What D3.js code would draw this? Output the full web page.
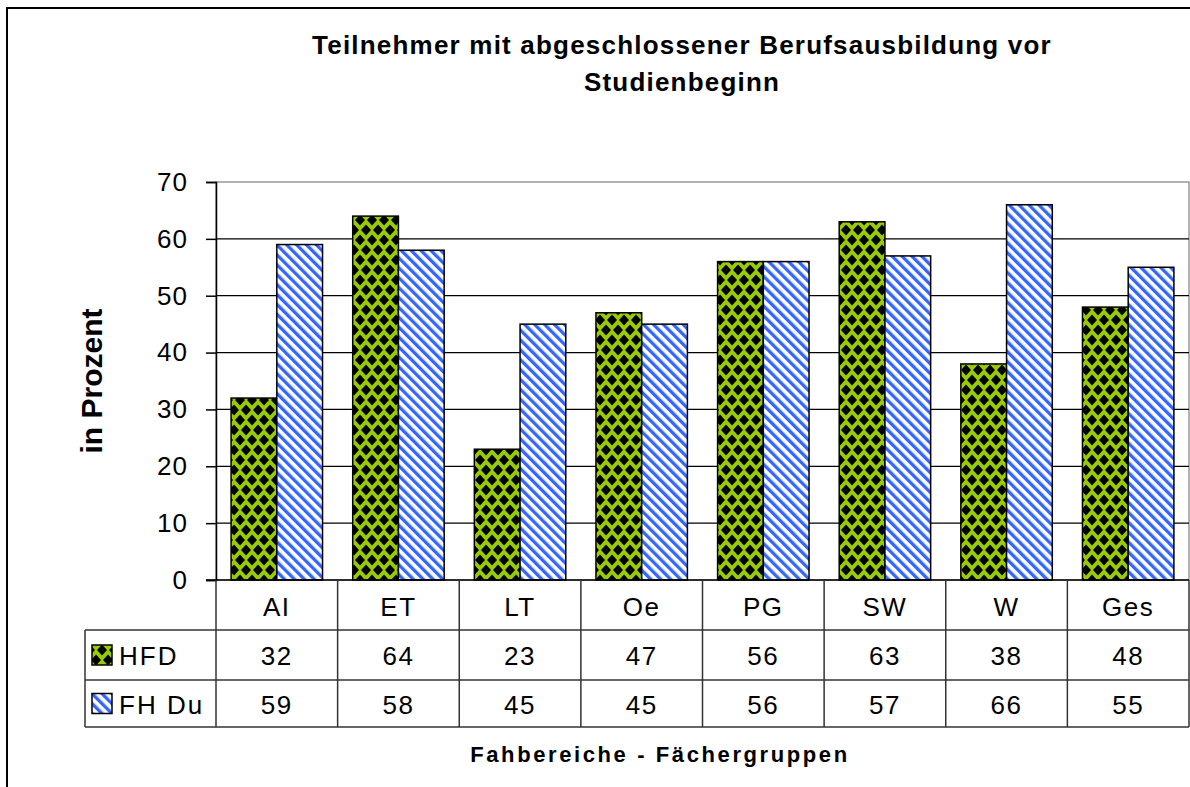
<!DOCTYPE html>
<html>
<head>
<meta charset="utf-8">
<script src="https://cdn.jsdelivr.net/npm/d3@7/dist/d3.min.js"></script>
<style>
  body { margin: 0; background: #fff; }
  text { font-family: 'Liberation Sans', Arial, sans-serif; fill: #000; }
</style>
</head>
<body>
<svg id="chart" width="1190" height="787"></svg>
<script>
const categories = ['AI', 'ET', 'LT', 'Oe', 'PG', 'SW', 'W', 'Ges'];
const seriesNames = ['HFD', 'FH Du'];
const hfd = [32, 64, 23, 47, 56, 63, 38, 48];
const fhdu = [59, 58, 45, 45, 56, 57, 66, 55];
const yTicks = [0, 10, 20, 30, 40, 50, 60, 70];

const W = 1190, H = 787;
const plotL = 216, plotR = 1189, plotT = 182, plotB = 580;
const rowH = [50, 50, 47];

const svg = d3.select('#chart');
const defs = svg.append('defs');

// green with black diamonds
const pDots = defs.append('pattern')
  .attr('id', 'pDots')
  .attr('patternUnits', 'userSpaceOnUse')
  .attr('width', 12).attr('height', 20);
pDots.append('rect').attr('width', 12).attr('height', 20).attr('fill', '#99cc00');
[[0, 0], [12, 0], [0, 20], [12, 20], [6, 10]].forEach(([cx, cy]) => {
  pDots.append('path')
    .attr('d', `M${cx} ${cy - 5.5}L${cx + 5} ${cy}L${cx} ${cy + 5.5}L${cx - 5} ${cy}Z`)
    .attr('fill', '#000');
});

// white with blue diagonal stripes
const pStripe = defs.append('pattern')
  .attr('id', 'pStripe')
  .attr('patternUnits', 'userSpaceOnUse')
  .attr('width', 7).attr('height', 7)
  .attr('patternTransform', 'rotate(-45)');
pStripe.append('rect').attr('width', 7).attr('height', 7).attr('fill', '#fff');
pStripe.append('rect').attr('width', 3.3).attr('height', 7).attr('fill', '#3366ff');

const fills = ['url(#pDots)', 'url(#pStripe)'];
const series = [hfd, fhdu];

// outer frame
svg.append('path')
  .attr('d', `M7 ${H}V8H${W}`)
  .attr('fill', 'none').attr('stroke', '#000').attr('stroke-width', 2);

// title
const title = svg.append('text')
  .attr('text-anchor', 'middle')
  .style('font-size', '26px').style('font-weight', 'bold')
  .style('letter-spacing', '1.2px');
title.append('tspan').attr('x', 682).attr('y', 54).text('Teilnehmer mit abgeschlossener Berufsausbildung vor');
title.append('tspan').attr('x', 682).attr('y', 91).text('Studienbeginn');

const x = d3.scaleBand().domain(categories).range([plotL, plotR]);
const xs = d3.scaleBand().domain(seriesNames).range([0, x.bandwidth()]).paddingOuter(0.33).paddingInner(0);
const y = d3.scaleLinear().domain([0, 70]).range([plotB, plotT]);

// plot border (grey) and gridlines
svg.append('rect')
  .attr('x', plotL).attr('y', plotT).attr('width', plotR - plotL).attr('height', plotB - plotT)
  .attr('fill', 'none').attr('stroke', '#999').attr('stroke-width', 1.5);

svg.append('g').selectAll('line').data(yTicks.filter(d => d > 0 && d < 70)).join('line')
  .attr('x1', plotL).attr('x2', plotR)
  .attr('y1', d => y(d)).attr('y2', d => y(d))
  .attr('stroke', '#000').attr('stroke-width', 1.2);

// y axis
const yAxis = svg.append('g')
  .attr('transform', `translate(${plotL},0)`)
  .call(d3.axisLeft(y).tickValues(yTicks).tickSize(10).tickPadding(18));
yAxis.select('.domain').attr('stroke', '#000').attr('stroke-width', 1.5);
yAxis.selectAll('.tick line').attr('stroke', '#000').attr('stroke-width', 1.5);
yAxis.selectAll('.tick text')
  .style('font-size', '26px').style('font-family', "'Liberation Sans', Arial, sans-serif")
  .style('letter-spacing', '1px')
  .attr('fill', '#000');

svg.append('text')
  .attr('transform', `translate(102,${(plotT + plotB) / 2}) rotate(-90)`)
  .attr('text-anchor', 'middle')
  .style('font-size', '30px').style('font-weight', 'bold')
  .text('in Prozent');

// bars
series.forEach((vals, si) => {
  svg.append('g').selectAll('rect').data(vals).join('rect')
    .attr('x', (d, i) => x(categories[i]) + xs(seriesNames[si]))
    .attr('width', xs.bandwidth())
    .attr('y', d => y(d))
    .attr('height', d => y(0) - y(d))
    .attr('fill', fills[si])
    .attr('stroke', '#000').attr('stroke-width', 1.5);
});

// x axis line
svg.append('line')
  .attr('x1', plotL - 10).attr('x2', plotR)
  .attr('y1', plotB).attr('y2', plotB)
  .attr('stroke', '#000').attr('stroke-width', 1.5);

// data table
const r0 = plotB, r1 = r0 + rowH[0], r2 = r1 + rowH[1], r3 = r2 + rowH[2];
const legendLeft = 85;
const tbl = svg.append('g').attr('stroke', '#333').attr('stroke-width', 1.5);

tbl.selectAll('line.v').data(categories.concat(['__end'])).join('line')
  .attr('class', 'v')
  .attr('x1', (d, i) => plotL + i * x.bandwidth())
  .attr('x2', (d, i) => plotL + i * x.bandwidth())
  .attr('y1', r0).attr('y2', r3);
tbl.append('line').attr('x1', legendLeft).attr('x2', legendLeft).attr('y1', r1).attr('y2', r3);
[r1, r2, r3].forEach(ry => {
  tbl.append('line').attr('x1', legendLeft).attr('x2', plotR).attr('y1', ry).attr('y2', ry);
});

svg.append('g').selectAll('text').data(categories).join('text')
  .attr('x', d => x(d) + x.bandwidth() / 2)
  .attr('y', r0 + 36)
  .attr('text-anchor', 'middle')
  .style('font-size', '26px').style('letter-spacing', '1.5px')
  .text(d => d);

const rowTops = [r1, r2];
series.forEach((vals, si) => {
  const ry = rowTops[si];
  const rh = rowH[si + 1];
  svg.append('g').selectAll('text').data(vals).join('text')
    .attr('x', (d, i) => x(categories[i]) + x.bandwidth() / 2)
    .attr('y', ry + rh / 2 + 10)
    .attr('text-anchor', 'middle')
    .style('font-size', '26px').style('letter-spacing', '1.5px')
    .text(d => d);
  svg.append('rect')
    .attr('x', 92).attr('y', ry + rh / 2 - 10)
    .attr('width', 20).attr('height', 20)
    .attr('fill', fills[si])
    .attr('stroke', '#000').attr('stroke-width', 1.5);
  svg.append('text')
    .attr('x', 119).attr('y', ry + rh / 2 + 10)
    .style('font-size', '26px').style('letter-spacing', '2px')
    .text(seriesNames[si]);
});

svg.append('text')
  .attr('x', 660).attr('y', 762)
  .attr('text-anchor', 'middle')
  .style('font-size', '22px').style('font-weight', 'bold')
  .style('letter-spacing', '2.6px')
  .text('Fahbereiche - Fächergruppen');
</script>
</body>
</html>
